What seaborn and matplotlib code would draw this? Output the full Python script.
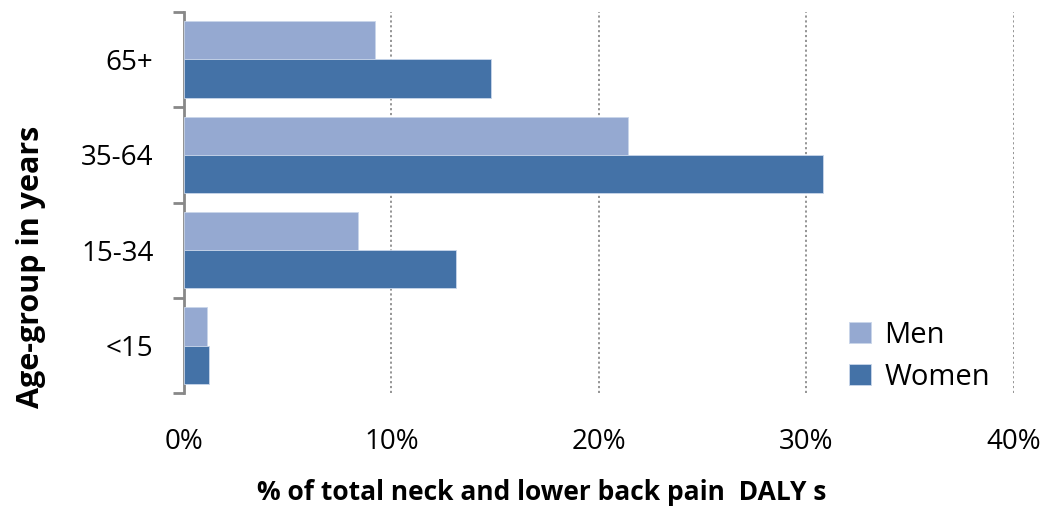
import pandas as pd
import seaborn as sns
import matplotlib.pyplot as plt
from matplotlib.ticker import FixedLocator, PercentFormatter

sns.set_style("white")
plt.rcParams['font.family'] = ['Open Sans', 'DejaVu Sans']
plt.rcParams['text.color'] = 'black'
plt.rcParams['xtick.color'] = 'black'
plt.rcParams['ytick.color'] = 'black'
plt.rcParams['axes.labelcolor'] = 'black'

# data (percent)
ages = ['65+', '35-64', '15-34', '<15']
men = [9.2, 21.4, 8.4, 1.1]
women = [14.8, 30.8, 13.1, 1.2]

df = pd.DataFrame({
    'age': ages * 2,
    'pct': men + women,
    'sex': ['Men'] * 4 + ['Women'] * 4,
})

fig = plt.figure(figsize=(10.46, 5.14), dpi=100)
ax = fig.add_axes([0.176, 0.235, 0.793, 0.742])

sns.barplot(data=df, y='age', x='pct', hue='sex', order=ages,
            palette=['#95A9D1', '#4472A7'], saturation=1, orient='h', width=0.8,
            edgecolor='#C9D6EA', linewidth=0.6, ax=ax, zorder=3)

ax.set_xlim(0, 40)
ax.set_ylim(3.5, -0.5)
ax.set_xticks([0, 10, 20, 30, 40])
ax.xaxis.set_major_formatter(PercentFormatter(decimals=0))
for x in [10, 20, 30, 40]:
    ax.axvline(x, color='#8C8C8C', linestyle=(0, (1.2, 1.5)), linewidth=1.3, zorder=1)

sns.despine(ax=ax, top=True, right=True, bottom=True)
ax.spines['left'].set_color('#888888')
ax.spines['left'].set_linewidth(2)
ax.tick_params(axis='both', length=0, labelsize=20)
ax.tick_params(axis='x', pad=25)
ax.yaxis.set_minor_locator(FixedLocator([-0.5, 0.5, 1.5, 2.5, 3.5]))
ax.tick_params(axis='y', which='minor', left=True, length=8, width=2, color='#888888')
ax.tick_params(axis='y', which='major', pad=22)

ax.set_xlabel('% of total neck and lower back pain  DALY s', fontsize=19,
              fontweight='bold')
ax.xaxis.set_label_coords(0.431, -0.225)
ax.set_ylabel('Age-group in years', fontsize=22, fontweight='bold')
ax.yaxis.set_label_coords(-0.166, 0.33)

ax.legend(loc='lower right', bbox_to_anchor=(1.003, -0.065), frameon=False,
          fontsize=21, handlelength=0.75, handleheight=0.75, handletextpad=0.45,
          labelspacing=0.45)

fig.savefig('out.png', dpi=100)
